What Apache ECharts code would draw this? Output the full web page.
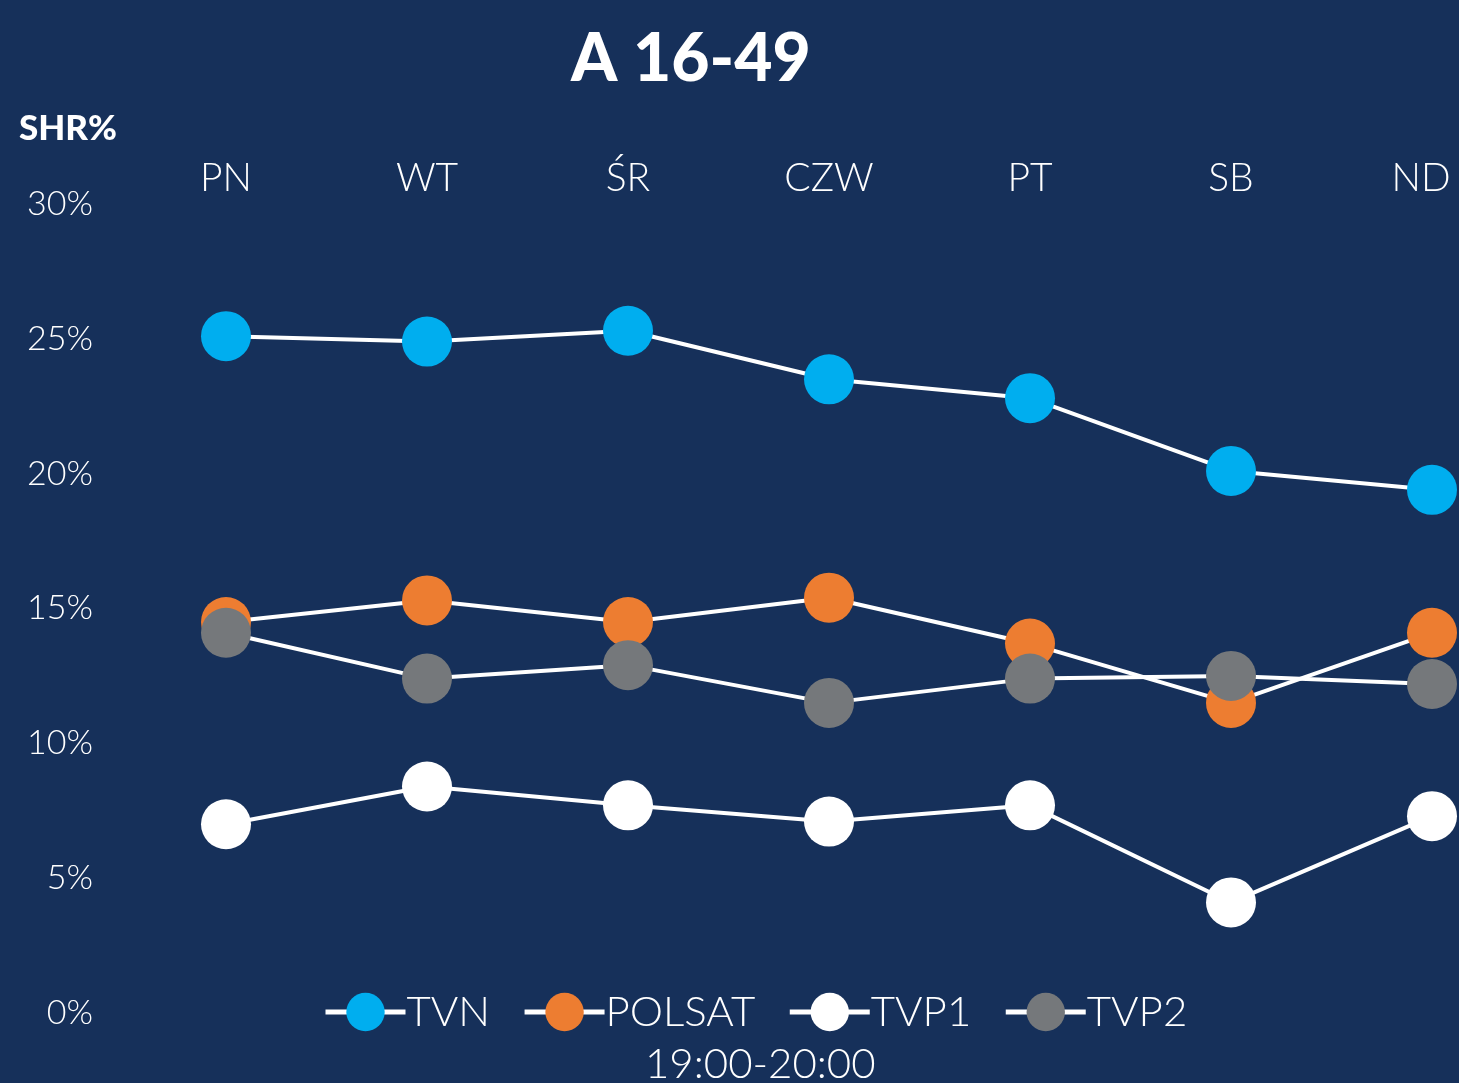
<!DOCTYPE html>
<html>
<head>
<meta charset="utf-8">
<script src="https://cdn.jsdelivr.net/npm/echarts@6/dist/echarts.min.js"></script>
<style>
  html, body { margin: 0; padding: 0; background: #16305a; }
  #chart { width: 1459px; height: 1083px; }
</style>
</head>
<body>
<div id="chart"></div>
<script>
const days = ['PN', 'WT', 'ŚR', 'CZW', 'PT', 'SB', 'ND'];
const tvn = [25.1, 24.9, 25.3, 23.5, 22.8, 20.1, 19.4];
const polsat = [14.5, 15.3, 14.5, 15.4, 13.7, 11.5, 14.1];
const tvp1 = [7.0, 8.4, 7.7, 7.1, 7.7, 4.1, 7.3];
const tvp2 = [14.1, 12.4, 12.9, 11.5, 12.4, 12.5, 12.2];

const font = 'Lato';
const chart = echarts.init(document.getElementById('chart'));

function lineSeries(name, data, color) {
  return {
    name: name,
    type: 'line',
    data: data,
    symbol: 'circle',
    symbolSize: 50,
    itemStyle: { color: color },
    lineStyle: { color: '#ffffff', width: 4 },
    emphasis: { disabled: true }
  };
}

const labelStyle = { color: '#fff', fontSize: 39, fontWeight: 300, fontFamily: font };

chart.setOption({
  backgroundColor: '#16305a',
  animation: false,
  title: [
    {
      text: 'A 16-49',
      left: 566, top: 22,
      textStyle: { color: '#fff', fontSize: 66, fontWeight: 900, fontFamily: font }
    },
    {
      text: 'SHR%',
      left: 14, top: 106,
      textStyle: { color: '#fff', fontSize: 35, fontWeight: 900, fontFamily: font }
    },
    {
      text: '19:00-20:00',
      left: 640, top: 1038,
      textStyle: { color: '#fff', fontSize: 42, fontWeight: 300, fontFamily: font }
    }
  ],
  legend: {
    left: 318, top: 986,
    itemWidth: 80, itemHeight: 48, itemGap: 32,
    lineStyle: { width: 5 },
    textStyle: { color: '#fff', fontSize: 42, fontWeight: 300, fontFamily: font, padding: [0, 0, 0, -4] },
    data: ['TVN', 'POLSAT', 'TVP1', 'TVP2']
  },
  grid: { left: 226, right: 27, top: 204, bottom: 70, outerBoundsMode: 'none' },
  xAxis: {
    type: 'category',
    position: 'top',
    boundaryGap: false,
    data: days,
    axisLine: { show: false },
    axisTick: { show: false },
    axisLabel: Object.assign({}, labelStyle, {
      margin: 6,
      formatter: function (v, i) {
        return i === days.length - 1 ? '{last|' + v + '}' : v;
      },
      rich: { last: Object.assign({}, labelStyle, { padding: [0, 22, 0, 0] }) }
    })
  },
  yAxis: {
    type: 'value',
    min: 0, max: 30, interval: 5,
    splitLine: { show: false },
    axisLine: { show: false },
    axisTick: { show: false },
    axisLabel: {
      color: '#fff', fontSize: 34, fontWeight: 300, fontFamily: font, margin: 133,
      formatter: '{value}%'
    }
  },
  series: [
    lineSeries('TVN', tvn, '#00aeef'),
    lineSeries('POLSAT', polsat, '#ed7d31'),
    lineSeries('TVP1', tvp1, '#ffffff'),
    lineSeries('TVP2', tvp2, '#75787b')
  ]
});
</script>
</body>
</html>
